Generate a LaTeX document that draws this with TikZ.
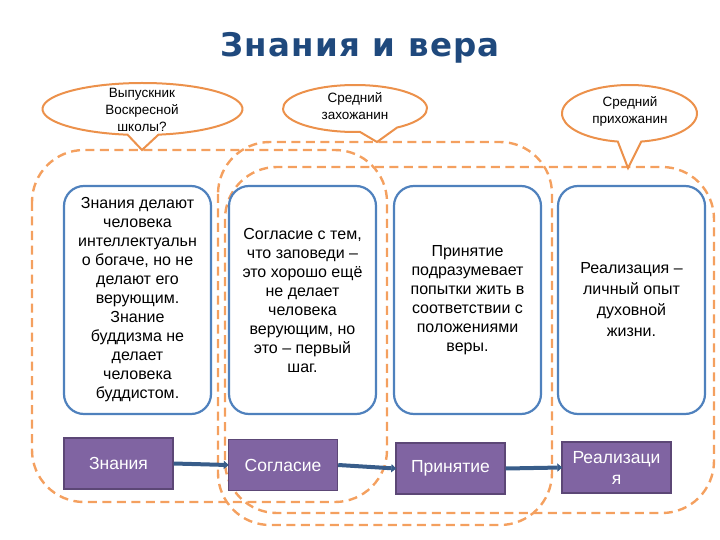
\documentclass[tikz,border=0pt]{standalone}
\usepackage{fontspec}
\setmainfont{Liberation Sans}
\newfontface\titlefont[LetterSpace=4]{DejaVu Sans Bold}
\usetikzlibrary{arrows.meta,calc}
\definecolor{ttl}{RGB}{31,73,125}
\definecolor{orng}{RGB}{236,145,75}
\definecolor{orngd}{RGB}{244,160,95}
\definecolor{bbord}{RGB}{79,129,189}
\definecolor{purp}{RGB}{128,100,162}
\definecolor{purpd}{RGB}{92,71,118}
\definecolor{arr}{RGB}{56,93,138}
\tikzset{
  dashbox/.style={draw=orngd, line width=2.4pt, dash pattern=on 9pt off 5.5pt, rounded corners=52pt},
  callout/.style={draw=orng, line width=2pt, fill=white, line join=miter},
  ctext/.style={align=center, inner sep=0pt, font=\fontsize{13.5}{17}\selectfont},
  textbox/.style={draw=bbord, line width=2.2pt, rounded corners=20pt, fill=white,
    minimum width=147pt, minimum height=228pt, align=center, inner sep=0pt,
    font=\fontsize{16}{19}\selectfont},
  stagebox/.style={draw=purpd, line width=1.4pt, fill=purp, text=white,
    minimum width=109pt, minimum height=51pt, align=center, inner sep=0pt,
    font=\fontsize{17.5}{21}\selectfont},
  flow/.style={draw=arr, line width=4pt, -{Triangle[length=5pt,width=8pt]}, shorten >=-1pt}
}
\begin{document}
\begin{tikzpicture}[x=1pt,y=-1pt]
\useasboundingbox (0,0) rectangle (720,540);

% title
\node[anchor=base, inner sep=0pt, text=ttl, font=\titlefont\fontsize{32.5}{36}\selectfont] (title) at (360,57) {Знания и вера};

% dashed groups
\draw[dashbox] (32,150) rectangle (387,502);
\draw[dashbox] (218,142) rectangle (552,525);
\draw[dashbox] (225,167) rectangle (714,513);

% callouts
\draw[callout] (142,150) -- ($(142.5,109)+(80.8:100 and 26)$)
  arc[start angle=80.8, end angle=-261.4, x radius=100, y radius=26] -- cycle;
\draw[callout] (377,142) -- ($(355,108.5)+(54.3:72 and 23.5)$)
  arc[start angle=54.3, end angle=-274, x radius=72, y radius=23.5] -- cycle;
\draw[callout] (628,168) -- ($(629.5,113.5)+(80:67.5 and 28.5)$)
  arc[start angle=80, end angle=-260, x radius=67.5, y radius=28.5] -- cycle;
\node[ctext] (c1) at (142,110) {Выпускник\\Воскресной\\школы?};
\node[ctext] (c2) at (355,106) {Средний\\захожанин};
\node[ctext] (c3) at (630,111) {Средний\\прихожанин};

% description boxes
\node[textbox] (b1) at (137.5,300) {Знания делают\\человека\\интеллектуальн\\о богаче, но не\\делают его\\верующим.\\Знание\\буддизма не\\делает\\человека\\буддистом.};
\node[textbox] (b2) at (302.5,300) {Согласие с тем,\\что заповеди –\\это хорошо ещё\\не делает\\человека\\верующим, но\\это – первый\\шаг.};
\node[textbox] (b3) at (467.5,300) {Принятие\\подразумевает\\попытки жить в\\соответствии с\\положениями\\веры.};
\node[textbox, font=\fontsize{16}{21}\selectfont] (b4) at (631.5,300) {Реализация –\\личный опыт\\духовной\\жизни.};

% stages
\node[stagebox] (s1) at (118.5,463.5) {Знания};
\node[stagebox] (s2) at (283,465) {Согласие};
\node[stagebox] (s3) at (450.5,468.5) {Принятие};
\node[stagebox] (s4) at (616.5,467.5) {Реализаци\\я};

\draw[flow] (s1.east) -- (s2.west);
\draw[flow] (s2.east) -- (s3.west);
\draw[flow] (s3.east) -- (s4.west);
\end{tikzpicture}
\end{document}
